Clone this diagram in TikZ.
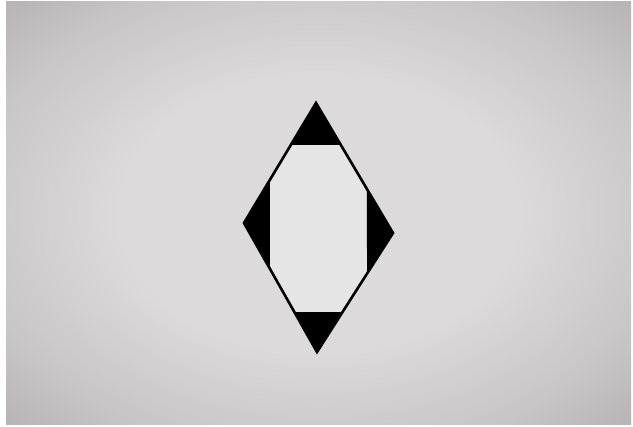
\documentclass[tikz,border=0pt]{standalone}
\usetikzlibrary{calc}
\definecolor{paper-mid}{HTML}{DCDADA}
\definecolor{paper-edge}{HTML}{C9C6C7}
\definecolor{paper-rim}{HTML}{ADA8AA}
\definecolor{paper-in}{HTML}{E6E5E5}
\pgfdeclareradialshading{paper}{\pgfpoint{0bp}{0bp}}{color(0bp)=(paper-mid);
  color(16bp)=(paper-mid); color(28bp)=(paper-edge); color(40bp)=(paper-rim);
  color(50bp)=(paper-rim)}
\begin{document}
\begin{tikzpicture}[x=1pt, y=-1pt,
      outline/.style={draw=black, line width=2.6pt, line join=miter},
      tip/.style={fill=black}]
    \useasboundingbox (0,0) rectangle (633,427);
    \fill[white] (0,0) rectangle (633,427);
    \shade[shading=paper] (6,2) rectangle (631,425);
    \coordinate (T) at (316,103);
    \coordinate (L) at (244,223);
    \coordinate (R) at (393,233);
    \coordinate (B) at (317,352);
    \fill[paper-in] (T) -- (R) -- (B) -- (L) -- cycle;
    \foreach \apex/\sa/\fa/\sb/\fb in {T/L/0.35/R/0.323, B/L/0.31/R/0.336,
        L/T/0.361/B/0.356, R/T/0.338/B/0.342} {
      \fill[tip] (\apex) -- ($(\apex)!\fa!(\sa)$) -- ($(\apex)!\fb!(\sb)$) -- cycle;
    }
    \draw[outline] (T) -- (R) -- (B) -- (L) -- cycle;
  \end{tikzpicture}
\end{document}
